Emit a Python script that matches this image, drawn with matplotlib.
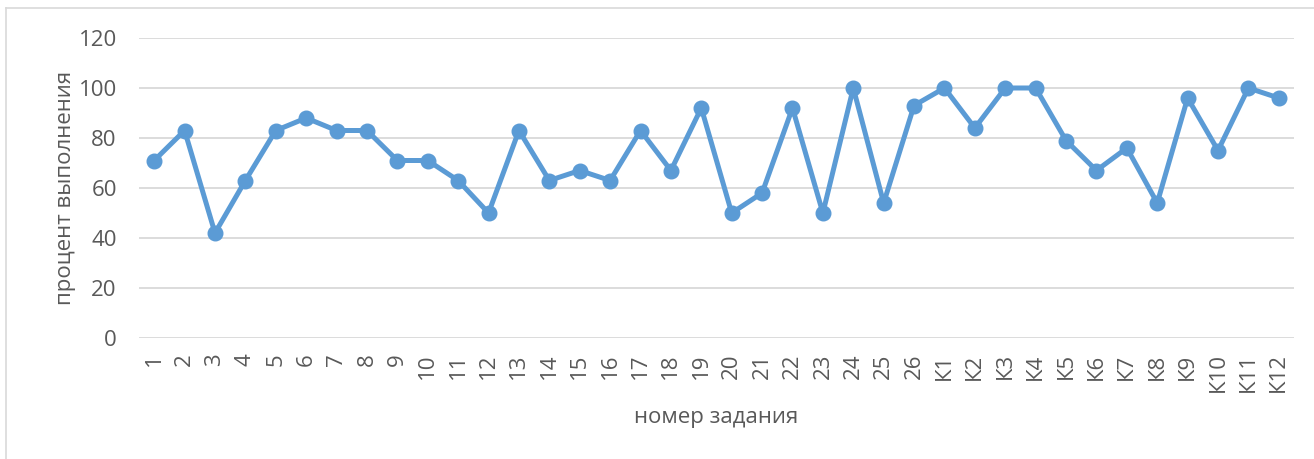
import matplotlib.pyplot as plt
from matplotlib.lines import Line2D

# task labels and completion percent
tasks = [str(i) for i in range(1, 27)] + ["К" + str(i) for i in range(1, 13)]
percent = [71, 83, 42, 63, 83, 88, 83, 83, 71, 71, 63, 50, 83, 63, 67, 63, 83, 67, 92,
           50, 58, 92, 50, 100, 54, 93, 100, 84, 100, 100, 79, 67, 76, 54, 96, 75, 100, 96]

text_color = '#595959'
line_color = '#5B9BD5'

plt.rcParams['font.family'] = ['Open Sans', 'DejaVu Sans']

fig = plt.figure(figsize=(13.14, 4.59), dpi=100)
ax = fig.add_axes([139 / 1314, 1 - 338 / 459, (1294 - 139) / 1314, 300 / 459])

x = range(len(tasks))
ax.plot(x, percent, color=line_color, lw=3.6, marker='o', ms=10.5, zorder=3)

ax.set_xlim(-0.5, len(tasks) - 0.5)
ax.set_ylim(0, 120)
ax.set_yticks(range(0, 121, 20))
ax.set_xticks(list(x))
ax.set_xticklabels(tasks, rotation=90)
ax.tick_params(axis='both', length=0, labelsize=16, colors=text_color)
ax.tick_params(axis='y', pad=16)
ax.tick_params(axis='x', pad=11)
ax.grid(axis='y', color='#D9D9D9', lw=1.3)
ax.set_axisbelow(True)
for s in ax.spines.values():
    s.set_visible(False)

ax.set_ylabel("процент выполнения", fontsize=16, color=text_color, labelpad=2)
fig.text(716 / 1314, 1 - 418 / 459, "номер задания", fontsize=16, color=text_color,
         ha='center', va='center')

# outer chart border (top and left)
fig.add_artist(Line2D([6 / 1314, 6 / 1314], [0, 1 - 8 / 459], transform=fig.transFigure,
                      color='#D9D9D9', lw=1.2))
fig.add_artist(Line2D([6 / 1314, 1], [1 - 8 / 459, 1 - 8 / 459], transform=fig.transFigure,
                      color='#D9D9D9', lw=1.2))

fig.savefig('out.png', dpi=100)
